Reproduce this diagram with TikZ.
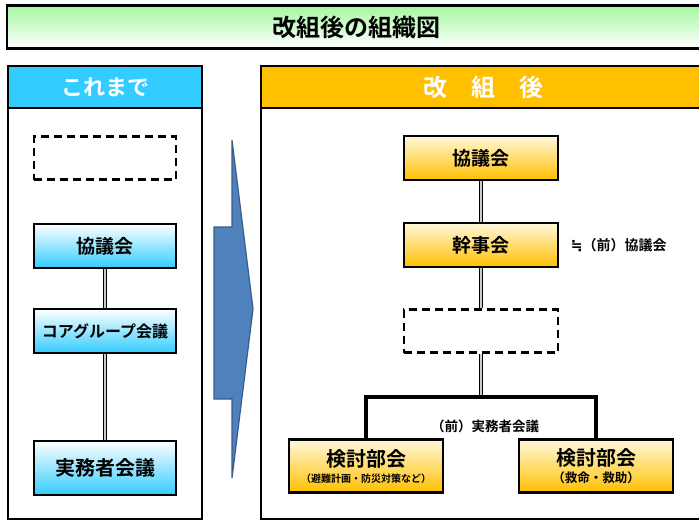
\documentclass[tikz,border=0pt]{standalone}
\usepackage{fontspec}
\setmainfont{Noto Sans CJK JP}[BoldFont={* Bold}]
\newfontfamily\symfont{DejaVu Sans}[BoldFont={* Bold}]
\usetikzlibrary{positioning}

\definecolor{titlegreen}{HTML}{A6F7A2}
\definecolor{oldblue}{HTML}{33CCFF}
\definecolor{newgold}{HTML}{FFC000}
\definecolor{goldtop}{HTML}{FFF8DC}
\definecolor{arrowblue}{HTML}{4F81BD}
\definecolor{arrowedge}{HTML}{385D8A}

\newcommand{\fsz}[1]{\fontsize{#1}{#1}\selectfont\bfseries}

\tikzset{
  panel/.style={draw=black, line width=2.5pt, minimum width=#1, inner sep=0pt},
  oldbox/.style={draw=black, line width=2.8pt, top color=white, bottom color=oldblue,
    minimum width=142pt, minimum height=44pt, inner sep=0pt},
  newbox/.style={draw=black, line width=2.8pt, top color=goldtop, bottom color=newgold,
    minimum width=154pt, minimum height=44pt, inner sep=0pt, align=center},
  emptybox/.style={draw=black, line width=2.2pt, dash pattern=on 8pt off 5pt,
    minimum height=43pt, inner sep=0pt},
  link/.style={draw=black, line width=1.3pt, double=gray!40, double distance=1.2pt},
  bus/.style={draw=black, line width=3.2pt}
}

\begin{document}
\begin{tikzpicture}[x=1pt, y=-1pt]
      \useasboundingbox (0,0) rectangle (699,523);

      % title bar
      \node[panel=698pt, minimum height=43pt, top color=titlegreen, bottom color=white] (title) at (356,27) {\fsz{24}改組後の組織図};

      % panels
      \draw[line width=2.5pt] (8,108) rectangle (202,519);
      \draw[line width=2.5pt] (261,108) rectangle (705,519);
      \node[panel=194pt, minimum height=42pt, fill=oldblue, text=white] (oldhead) at (105,87) {\fsz{22}これまで};
      \node[panel=444pt, minimum height=42pt, fill=newgold, text=white] (newhead) at (483,87) {\fsz{24}改　組　後};

      % left side
      \node[emptybox, minimum width=142pt] (oldempty) at (105,158) {};
      \node[oldbox] (oldkyo) at (105,246) {\fsz{19}協議会};
      \node[oldbox] (core) at (105,331) {\fsz{16}コアグループ会議};
      \node[oldbox, minimum height=54pt] (jitsu) at (105,468) {\fsz{20}実務者会議};
      \draw[link] (oldkyo) -- (core);
      \draw[link] (core) -- (jitsu);

      % big arrow
      \draw[fill=arrowblue, draw=arrowedge, line width=1.2pt] (214,227) -- (232,227) -- (232,140) -- (253,309) -- (232,478) -- (232,399) -- (214,399) -- cycle;

      % right side
      \node[newbox] (newkyo) at (481,158) {\fsz{19}協議会};
      \node[newbox] (kanji) at (481,245) {\fsz{19}幹事会};
      \node[right=8pt of kanji] (kanjinote) {\fsz{14}{\symfont ≒}（前）協議会};
      \node[emptybox, minimum width=154pt] (newempty) at (481,331) {};
      \node[newbox, minimum height=53pt] (bukaiA) at (366,466) {\fsz{20}検討部会\\[4pt]\fsz{10}（避難計画・防災対策など）};
      \node[newbox, minimum height=53pt] (bukaiB) at (596,466) {\fsz{20}検討部会\\[4pt]\fsz{12.5}（救命・救助）};
      \coordinate (busL) at (366,397);
      \coordinate (busR) at (596,397);
      \coordinate (busM) at (481,397);
      \node (zennote) at (485,426) {\fsz{13.5}（前）実務者会議};

      \draw[link] (newkyo) -- (kanji);
      \draw[link] (kanji) -- (newempty);
      \draw[link] (newempty) -- (busM);
      \draw[bus] (bukaiA.north) -- (busL) -- (busR) -- (bukaiB.north);
    \end{tikzpicture}
\end{document}
